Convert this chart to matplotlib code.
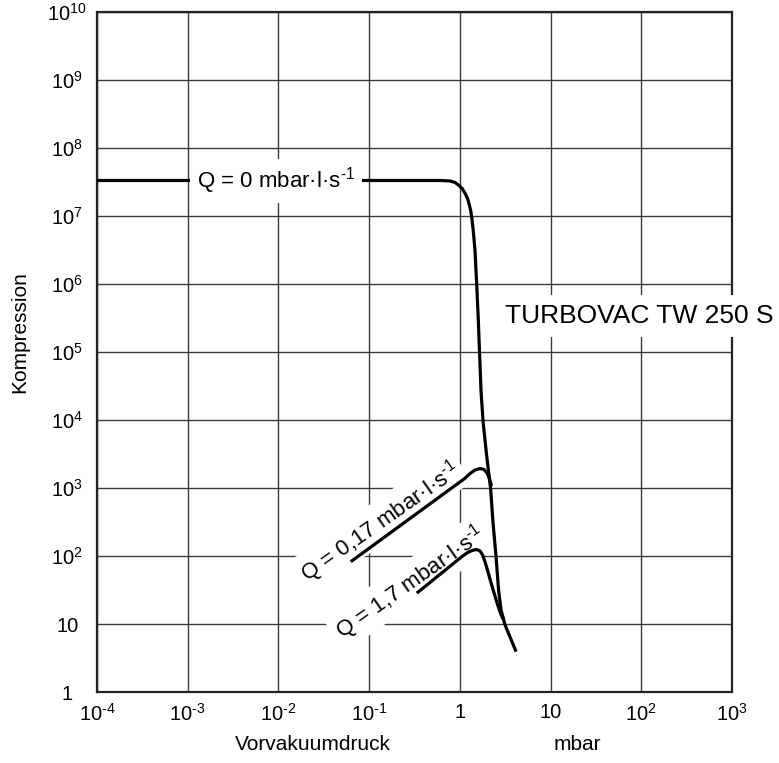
import matplotlib
matplotlib.use("Agg")
import matplotlib.pyplot as plt

plt.rcParams['font.family'] = ['Liberation Sans', 'DejaVu Sans']
plt.rcParams['mathtext.fontset'] = 'custom'
plt.rcParams['mathtext.rm'] = 'Liberation Sans'
plt.rcParams['mathtext.it'] = 'Liberation Sans:italic'
plt.rcParams['mathtext.bf'] = 'Liberation Sans:bold'

# ---- data ----
x_q0 = [1e-4, 0.605, 0.780, 0.885, 0.963, 1.058, 1.141, 1.216, 1.273, 1.319, 1.353, 1.409,
        1.471, 1.536, 1.600, 1.649, 1.713, 1.803, 1.970, 2.181, 2.323, 2.506, 2.671, 2.846,
        3.150, 4.166]
y_q0 = [3.33e7, 3.33e7, 3.27e7, 3.11e7, 2.86e7, 2.54e7, 2.16e7, 1.81e7, 1.45e7, 1.19e7,
        9.44e6, 5.87e6, 2.99e6, 9.44e5, 2.79e5, 9.57e4, 2.61e4, 9.44e3, 3.06e3, 990, 303,
        97.7, 31.6, 16.1, 9.67, 3.92]

x_q017 = [0.0627, 1.14, 1.296, 1.471, 1.670, 1.849, 1.995, 2.126, 2.237]
y_q017 = [82.4, 1390, 1634, 1840, 1935, 1871, 1662, 1355, 1070]

x_q17 = [0.335, 1.05, 1.200, 1.363, 1.528, 1.670, 1.780, 1.896, 2.046, 2.208, 2.383,
         2.571, 2.775, 2.995]
y_q17 = [28.4, 97.7, 111, 120.5, 124.6, 118.5, 103.5, 81.6, 58.2, 40.1, 28.6, 20.4, 15.0, 11.8]

x_ticks = [1e-4, 1e-3, 1e-2, 1e-1, 1, 10, 1e2, 1e3]
x_ticklabels = [r'$\mathregular{10^{\text{-}4}}$', r'$\mathregular{10^{\text{-}3}}$',
                r'$\mathregular{10^{\text{-}2}}$', r'$\mathregular{10^{\text{-}1}}$',
                '1', '10', r'$\mathregular{10^{2}}$', r'$\mathregular{10^{3}}$']
y_ticks = [1, 10, 1e2, 1e3, 1e4, 1e5, 1e6, 1e7, 1e8, 1e9, 1e10]
y_ticklabels = ['1', '10'] + [r'$\mathregular{10^{%d}}$' % k for k in range(2, 11)]

label_q0 = r'Q = 0 mbar·l·s$\mathregular{^{\text{-}1}}$'
label_q017 = r'Q = 0,17 mbar·l·s$\mathregular{^{\text{-}1}}$'
label_q17 = r'Q = 1,7 mbar·l·s$\mathregular{^{\text{-}1}}$'

# ---- figure ----
fig = plt.figure(figsize=(7.79, 7.63), dpi=100)
ax = fig.add_axes([97/779, 71/763, (732-97)/779, (692-12)/763])
ax.set_xscale('log')
ax.set_yscale('log')
ax.set_xlim(1e-4, 1e3)
ax.set_ylim(1, 1e10)
ax.set_axisbelow(True)
ax.grid(True, which='major', color='#3a3a3a', lw=1.0)
ax.minorticks_off()
ax.set_xticks(x_ticks)
ax.set_xticklabels(x_ticklabels)
ax.set_yticks(y_ticks)
ax.set_yticklabels(y_ticklabels)
ax.tick_params(axis='both', length=0, labelsize=14.5)
ax.tick_params(axis='x', pad=8)
ax.tick_params(axis='y', pad=21.5)
for lab in ax.get_yticklabels():
    lab.set_horizontalalignment('center')
for sp in ax.spines.values():
    sp.set_linewidth(1.6)
    sp.set_color('#222222')

lw = 2.3
ax.plot(x_q0, y_q0, color='black', lw=lw, zorder=3, solid_capstyle='butt', solid_joinstyle='round')
ax.plot(x_q017, y_q017, color='black', lw=lw, zorder=3, solid_capstyle='butt', solid_joinstyle='round')
ax.plot(x_q17, y_q17, color='black', lw=lw, zorder=3, solid_capstyle='butt', solid_joinstyle='round')

bb = dict(boxstyle='square,pad=0.3', fc='white', ec='none')
ax.text(0.0094, 3.3e7, label_q0, fontsize=16, ha='center', va='center', bbox=bb, zorder=4)
ax.text(0.132, 319, label_q017, fontsize=16, ha='center', va='center', rotation=35,
        rotation_mode='anchor', bbox=dict(boxstyle='square,pad=0.2', fc='white', ec='none'), zorder=2)
ax.text(0.2825, 40.8, label_q17, fontsize=16, ha='center', va='center', rotation=35,
        rotation_mode='anchor', bbox=dict(boxstyle='square,pad=0.2', fc='white', ec='none'), zorder=2)

fig.text(639/779, (763-316)/763, 'TURBOVAC TW 250 S', fontsize=19, ha='center', va='center',
         bbox=dict(boxstyle='square,pad=0.35', fc='white', ec='none'), zorder=5)

fig.text(20/779, (763-332)/763, 'Kompression', fontsize=15, rotation=90, ha='center', va='center')
fig.text(313/779, (763-745)/763, 'Vorvakuumdruck', fontsize=15, ha='center', va='center')
fig.text(577/779, (763-745)/763, 'mbar', fontsize=15, ha='center', va='center')

fig.savefig('out.png', dpi=100)
